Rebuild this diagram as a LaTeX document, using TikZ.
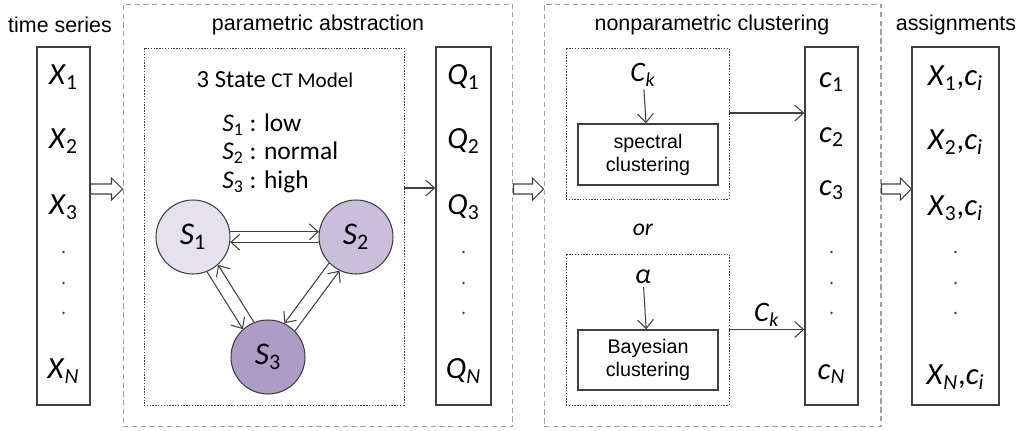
\documentclass[tikz,border=0pt]{standalone}
\usepackage{fontspec}
\setmainfont{Carlito}
\newfontfamily\labelfont{Liberation Sans}
\usetikzlibrary{arrows.meta,calc,positioning}

\definecolor{boxgray}{HTML}{404040}
\definecolor{dashgray}{HTML}{A0A0A0}
\definecolor{lowfill}{HTML}{E6E1EE}
\definecolor{normfill}{HTML}{C9BFDC}
\definecolor{highfill}{HTML}{AE9CC6}

\newcommand{\var}[2]{\textit{#1}\textsubscript{#2}}
% block arrow between two named points at the same height
\newcommand{\hollowarrow}[2]{%
  \draw[hollow] ($(#1)+(0,5)$) -- ($(#2)+(-11,5)$) -- ($(#2)+(-11,11)$) -- (#2)
    -- ($(#2)+(-11,-11)$) -- ($(#2)+(-11,-5)$) -- ($(#1)+(0,-5)$) -- cycle;}

\tikzset{
  stage/.style={draw=dashgray, line width=0.6pt, dash pattern=on 3pt off 2pt,
    minimum height=8.46cm, inner sep=0pt},
  sub/.style={draw=boxgray, line width=0.4pt, dash pattern=on 0.8pt off 0.8pt, inner sep=0pt},
  column/.style={draw=boxgray, line width=0.8pt, minimum height=7.16cm, inner sep=0pt},
  title/.style={inner sep=0pt, font=\labelfont\fontsize{12.2}{14}\selectfont},
  entry/.style={inner sep=0pt, font=\fontsize{17.5}{19}\selectfont},
  state/.style={circle, draw=boxgray, line width=0.6pt, minimum size=1.48cm, inner sep=0pt,
    font=\fontsize{18}{20}\selectfont},
  legend/.style={anchor=west, inner sep=0pt, font=\fontsize{14.5}{17}\selectfont},
  method/.style={draw=boxgray, line width=0.8pt, minimum width=2.8cm, minimum height=1.22cm,
    align=center, font=\labelfont\fontsize{11.2}{13}\selectfont},
  small/.style={inner sep=1.5pt, font=\fontsize{16}{18}\selectfont},
  arr/.style={draw=boxgray, line width=0.6pt, -{Straight Barb[length=5pt,width=9pt]}},
  hollow/.style={draw=boxgray, line width=0.6pt, fill=white}
}

\begin{document}
\begin{tikzpicture}[x=0.02cm,y=-0.02cm,line join=miter]
  \useasboundingbox (0,0) rectangle (1021,430);

  % stages
  \node[stage, minimum width=7.8cm] (para) at (318,215.5) {};
  \node[stage, minimum width=6.74cm] (nonpara) at (712.5,215.5) {};
  \node[title] (paratitle) at (318,25) {parametric abstraction};
  \node[title] (nonparatitle) at (712,25) {nonparametric clustering};

  % columns
  \node[column, minimum width=1.06cm] (ts) at (63.5,226) {};
  \node[column, minimum width=1.1cm] (qbox) at (463.5,226) {};
  \node[column, minimum width=1.06cm] (cbox) at (831.5,226) {};
  \node[column, minimum width=1.74cm] (abox) at (955.5,226) {};
  \node[title] (tstitle) at (60,25) {time series};
  \node[title] (atitle) at (956,25) {assignments};

  \foreach \n/\y/\s in {1/77/1, 2/141/2, 3/207/3, N/371/\textit{N}}{
    \node[entry] (x\n) at (63.5,\y) {\var{X}{\s}};
    \node[entry] (q\n) at (463.5,\y) {\var{Q}{\s}};
  }
  \foreach \n/\y/\s in {1/82/1, 2/137/2, 3/190/3, N/374/\textit{N}}
    \node[entry] (c\n) at (831.5,\y) {\var{c}{\s}};
  \foreach \n/\y/\s in {1/78/1, 2/142/2, 3/208/3, N/377/\textit{N}}
    \node[entry] (a\n) at (955.5,\y) {\var{X}{\s},\var{c}{\textit{i}}};
  \foreach \x in {63.5,463.5,831.5,955.5}
    \foreach \y in {252,283,313}
      \fill[boxgray] (\x,\y) circle (1.4);

  % CT model
  \node[sub, minimum width=5.2cm, minimum height=7.14cm] (ctmc) at (274,226.5) {};
  \node[inner sep=0pt, font=\fontsize{14}{16}\selectfont] (ctmctitle) at (275,80)
    {3 State {\fontsize{12}{14}\selectfont CT Model}};
  \node[legend] (l1) at (222,125) {\var{S}{1} : low};
  \node[legend] (l2) at (222,153) {\var{S}{2} : normal};
  \node[legend] (l3) at (222,182) {\var{S}{3} : high};

  \node[state, fill=lowfill] (s1) at (193,237) {\var{S}{1}};
  \node[state, fill=normfill] (s2) at (356,237) {\var{S}{2}};
  \node[state, fill=highfill] (s3) at (268,357) {\var{S}{3}};
  \draw[arr] (s1.8) -- (s2.172);
  \draw[arr] (s2.188) -- (s1.352);
  \draw[arr] (s1.-68) -- (s3.132);
  \draw[arr] (s3.112) -- (s1.-48);
  \draw[arr] (s2.224) -- (s3.64);
  \draw[arr] (s3.44) -- (s2.244);
  \draw[arr] ([yshift=0.77cm]ctmc.east) -- ([yshift=0.77cm]ctmc.east -| qbox.west);

  % clustering
  \node[sub, minimum width=3.26cm, minimum height=3.02cm] (upper) at (647.5,123.5) {};
  \node[sub, minimum width=3.26cm, minimum height=3.02cm] (lower) at (647.5,329.5) {};
  \node[small] (ck) at (643,75) {\var{C}{\textit{k}}};
  \node[method] (spectral) at (648,154.5) {spectral\\clustering};
  \node[small, font=\fontsize{13.5}{15}\selectfont] (or) at (643,230) {\textit{or}};
  \node[small] (alpha) at (643,277) {\textit{α}};
  \node[method, minimum height=1.2cm] (bayes) at (648,360) {Bayesian\\clustering};
  \draw[arr] (ck) -- (spectral);
  \draw[arr] (alpha) -- (bayes);
  \draw[arr] ([yshift=0.21cm]upper.east) -- ([yshift=0.21cm]upper.east -| cbox.west);
  \draw[arr] (lower.east) -- (lower.east -| cbox.west)
    node[small, midway, above] (cklabel) {\var{C}{\textit{k}}};

  % block arrows
  \coordinate (h1a) at ([yshift=0.74cm]ts.east);
  \coordinate (h1b) at (h1a -| para.west);
  \coordinate (h2a) at (h1a -| para.east);
  \coordinate (h2b) at (h1a -| nonpara.west);
  \coordinate (h3a) at (h1a -| nonpara.east);
  \coordinate (h3b) at (h1a -| abox.west);
  \hollowarrow{h1a}{h1b}
  \hollowarrow{h2a}{h2b}
  \hollowarrow{h3a}{h3b}
\end{tikzpicture}
\end{document}
